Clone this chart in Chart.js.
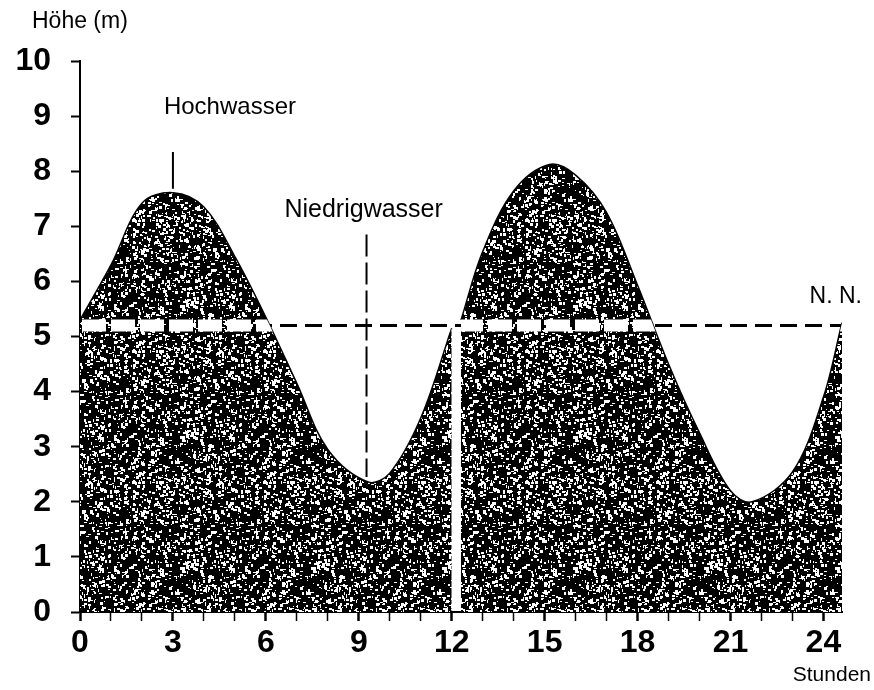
<!DOCTYPE html>
<html lang="de">
<head>
<meta charset="UTF-8" />
<title>Gezeiten – Höhe über N. N.</title>
<script src="https://cdn.jsdelivr.net/npm/chart.js"></script>
<style>
  html, body { margin: 0; padding: 0; background: #fff; }
  #wrap { width: 874px; height: 690px; }
</style>
</head>
<body>
<div id="wrap"><canvas id="tide" width="874" height="690"></canvas></div>
<script>
// Werte (Stunden / Höhe in m)
const hoursAM = [0, 1, 2, 3, 4, 5, 6, 7, 8, 9.3, 10, 11, 12];
const heightsAM = [5.3, 6.3, 7.42, 7.61, 7.35, 6.45, 5.35, 4.15, 2.95, 2.36, 2.52, 3.52, 5.15];
const hoursPM = [12.3, 13, 14, 15.15, 16, 17, 18, 19, 20, 21, 21.7, 23, 24, 24.6];
const heightsPM = [5.3, 6.54, 7.64, 8.12, 7.93, 7.25, 5.93, 4.5, 3.25, 2.2, 2.0, 2.54, 3.9, 5.25];

const nnLevel = 5.2;                 // Normalnull
const highMark = [8.35, 7.68];       // Hochwasser-Strich bei 3 h
const highHour = 3;
const lowMark = [6.85, 2.45];        // Niedrigwasser-Strich
const lowHour = 9.25;

const hourTicks = [0, 1, 2, 3, 4, 5, 6, 7, 8, 9, 10, 11, 12, 13, 14, 15, 16, 17, 18, 19, 20, 21, 22, 23, 24];
const hourLabels = [0, 3, 6, 9, 12, 15, 18, 21, 24];

const FONT = "'Liberation Sans', Arial, sans-serif";

// gesprenkelte Füllung wie im Druck
function speckle(size) {
  const c = document.createElement('canvas');
  c.width = c.height = size;
  const g = c.getContext('2d');
  g.fillStyle = '#000';
  g.fillRect(0, 0, size, size);
  g.fillStyle = '#fff';
  let s = 20240611;
  const rnd = () => (s = (s * 16807) % 2147483647) / 2147483647;
  for (let i = 0; i < size * size / 14; i++) {
    g.fillRect(Math.floor(rnd() * size), Math.floor(rnd() * size),
      1 + Math.floor(rnd() * 3), 1 + Math.floor(rnd() * 3));
  }
  return g.createPattern(c, 'repeat');
}
const fillPattern = speckle(131);

const toPoints = (xs, ys) => xs.map((x, i) => ({ x: x, y: ys[i] }));

// weißes N.N.-Band nur innerhalb der gefüllten Fläche
const bandPlugin = {
  id: 'nnBand',
  afterDatasetsDraw(chart) {
    const { ctx, chartArea: a, scales: { y } } = chart;
    ctx.save();
    ctx.beginPath();
    [0, 1].forEach(function (i) {
      const line = chart.getDatasetMeta(i).dataset;
      const pts = line.points;
      line.path(ctx);
      ctx.lineTo(pts[pts.length - 1].x, a.bottom);
      ctx.lineTo(pts[0].x, a.bottom);
      ctx.closePath();
    });
    ctx.clip();
    const yy = y.getPixelForValue(nnLevel);
    ctx.strokeStyle = '#fff';
    ctx.lineWidth = 12;
    ctx.setLineDash([24, 5]);
    ctx.beginPath();
    ctx.moveTo(a.left + 2, yy);
    ctx.lineTo(a.right, yy);
    ctx.stroke();
    ctx.restore();
  }
};

const textPlugin = {
  id: 'labels',
  afterDraw(chart) {
    const { ctx, chartArea: a, scales: { x, y } } = chart;
    ctx.save();
    ctx.fillStyle = '#000';
    ctx.textBaseline = 'middle';
    ctx.textAlign = 'left';
    ctx.font = '23px ' + FONT;
    ctx.fillText('Höhe (m)', 32, 22);
    ctx.font = '24px ' + FONT;
    ctx.fillText('Hochwasser', x.getPixelForValue(highHour) - 9, y.getPixelForValue(9.15));
    ctx.font = '25px ' + FONT;
    ctx.fillText('Niedrigwasser', x.getPixelForValue(6.6), y.getPixelForValue(7.3));
    ctx.textAlign = 'right';
    ctx.font = '23px ' + FONT;
    ctx.fillText('N. N.', a.right + 20, y.getPixelForValue(5.72));
    ctx.font = '21px ' + FONT;
    ctx.fillText('Stunden', a.right + 29, a.bottom + 63);
    ctx.restore();
  }
};

const curveStyle = {
  borderColor: '#000',
  borderWidth: 1.5,
  backgroundColor: fillPattern,
  fill: 'origin',
  pointRadius: 0,
  tension: 0.35,
  order: 1
};

new Chart(document.getElementById('tide'), {
  type: 'line',
  data: {
    datasets: [
      Object.assign({ label: '0–12 h', data: toPoints(hoursAM, heightsAM) }, curveStyle),
      Object.assign({ label: '12–24 h', data: toPoints(hoursPM, heightsPM) }, curveStyle),
      {
        label: 'N. N.',
        data: [{ x: 0, y: nnLevel }, { x: 24.6, y: nnLevel }],
        borderColor: '#000',
        borderWidth: 3,
        borderDash: [17, 8],
        pointRadius: 0,
        order: 2
      },
      {
        label: 'Hochwasser',
        data: highMark.map(v => ({ x: highHour, y: v })),
        borderColor: '#000',
        borderWidth: 2,
        pointRadius: 0,
        order: 0
      },
      {
        label: 'Niedrigwasser',
        data: lowMark.map(v => ({ x: lowHour, y: v })),
        borderColor: '#000',
        borderWidth: 2,
        borderDash: [22, 6],
        pointRadius: 0,
        order: 0
      }
    ]
  },
  options: {
    responsive: false,
    animation: false,
    devicePixelRatio: 1,
    layout: { padding: { top: 61, right: 32, bottom: 28, left: 0 } },
    plugins: {
      legend: { display: false },
      tooltip: { enabled: false }
    },
    scales: {
      x: {
        type: 'linear',
        min: 0,
        max: 24.6,
        afterBuildTicks: s => { s.ticks = hourTicks.map(v => ({ value: v })); },
        afterFit: s => { s.height = 50; },
        ticks: {
          autoSkip: false,
          maxRotation: 0,
          padding: 3,
          color: '#000',
          font: { family: FONT, size: 32, weight: 'bold' },
          callback: v => hourLabels.includes(v) ? String(v) : ''
        },
        grid: {
          drawOnChartArea: false,
          tickLength: 9,
          tickColor: '#000',
          tickWidth: c => (c.tick && hourLabels.includes(c.tick.value)) ? 2.5 : 1.5
        },
        border: { display: true, color: '#000', width: 2 }
      },
      y: {
        min: 0,
        max: 10,
        afterFit: s => { s.width = 80; },
        ticks: {
          stepSize: 1,
          padding: 20,
          color: '#000',
          font: { family: FONT, size: 32, weight: 'bold' }
        },
        grid: { drawOnChartArea: false, tickLength: 9, tickColor: '#000', tickWidth: 2 },
        border: { display: true, color: '#000', width: 2 }
      }
    }
  },
  plugins: [bandPlugin, textPlugin]
});
</script>
</body>
</html>
